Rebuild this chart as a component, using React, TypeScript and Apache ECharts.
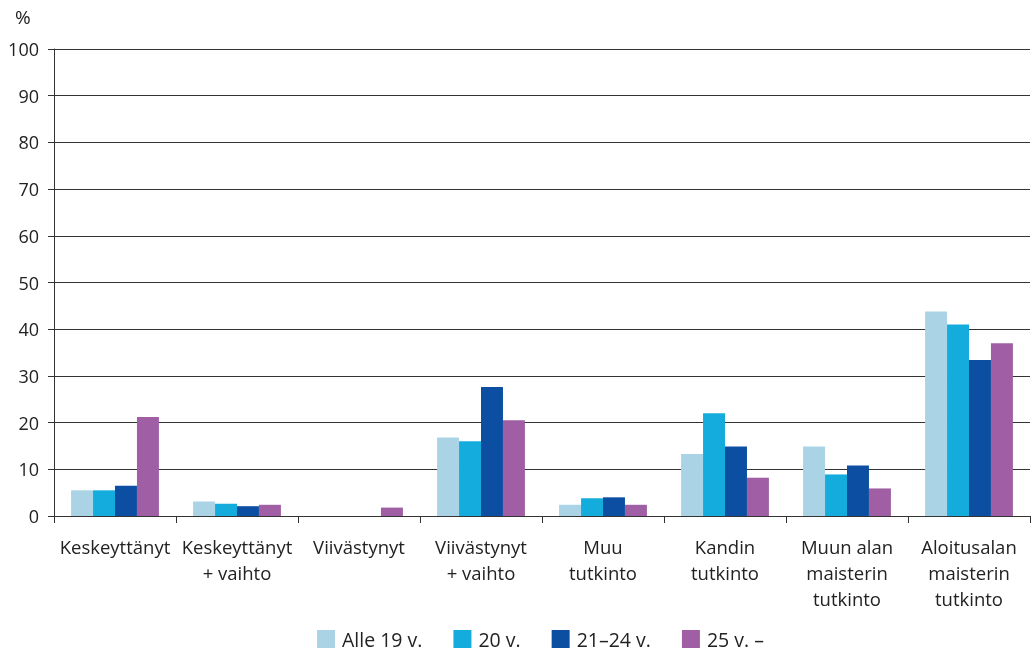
import React, { useEffect, useRef } from "react";
import * as echarts from "echarts";

const categories = [
  "Keskeyttänyt",
  "Keskeyttänyt\n+ vaihto",
  "Viivästynyt",
  "Viivästynyt\n+ vaihto",
  "Muu\ntutkinto",
  "Kandin\ntutkinto",
  "Muun alan\nmaisterin\ntutkinto",
  "Aloitusalan\nmaisterin\ntutkinto",
];
const seriesNames = ["Alle 19 v.", "20 v.", "21–24 v.", "25 v. –"];
const alle19 = [5.5, 3.1, 0, 16.8, 2.4, 13.3, 14.9, 43.8];
const v20 = [5.5, 2.6, 0, 16.0, 3.8, 22.0, 8.9, 41.0];
const v21_24 = [6.5, 2.1, 0, 27.6, 4.0, 14.9, 10.8, 33.4];
const v25 = [21.2, 2.4, 1.8, 20.5, 2.4, 8.2, 5.9, 37.0];
const colors = ["#aad3e6", "#14acdc", "#0c4ea1", "#a05fa5"];

export default function App() {
  const ref = useRef<HTMLDivElement>(null);
  useEffect(() => {
    if (!ref.current) return;
    const chart = echarts.init(ref.current, null, { renderer: "svg" });
    const font = "'Open Sans', 'Noto Sans', sans-serif";
    const data = [alle19, v20, v21_24, v25];
    chart.setOption({
      animation: false,
      textStyle: { fontFamily: font },
      grid: { left: 54, right: 1, top: 49, bottom: 135, containLabel: false },
      legend: {
        bottom: 2,
        left: 317,
        padding: 0,
        itemWidth: 18,
        itemHeight: 18,
        itemGap: 31,
        icon: "rect",
        textStyle: { fontSize: 19.5, color: "#222", fontFamily: font, padding: [0, 0, 0, 2] },
        data: seriesNames,
      },
      graphic: [
        {
          type: "text",
          left: 15,
          top: 7,
          style: { text: "%", fontSize: 19, fill: "#222", fontFamily: font },
        },
      ],
      xAxis: {
        type: "category",
        data: categories,
        axisLine: { lineStyle: { color: "#333", width: 1 } },
        axisTick: { show: true, length: 7, lineStyle: { color: "#333" } },
        axisLabel: {
          interval: 0,
          fontSize: 18.5,
          color: "#222",
          lineHeight: 26,
          margin: 17,
          fontFamily: font,
        },
      },
      yAxis: {
        type: "value",
        min: 0,
        max: 100,
        interval: 10,
        axisLine: { show: true, lineStyle: { color: "#333", width: 1 } },
        axisTick: { show: true, length: 6, lineStyle: { color: "#333" } },
        splitLine: { lineStyle: { color: "#333", width: 1 } },
        axisLabel: { fontSize: 18, color: "#222", margin: 15, fontFamily: font },
      },
      series: seriesNames.map((name, i) => ({
        name,
        type: "bar",
        data: data[i],
        barGap: "0%",
        barCategoryGap: "28%",
        itemStyle: { color: colors[i] },
      })),
    });
    return () => chart.dispose();
  }, []);
  return (
    <div
      ref={ref}
      style={{ position: "fixed", left: 0, top: 0, width: 1031, height: 651 }}
    />
  );
}
